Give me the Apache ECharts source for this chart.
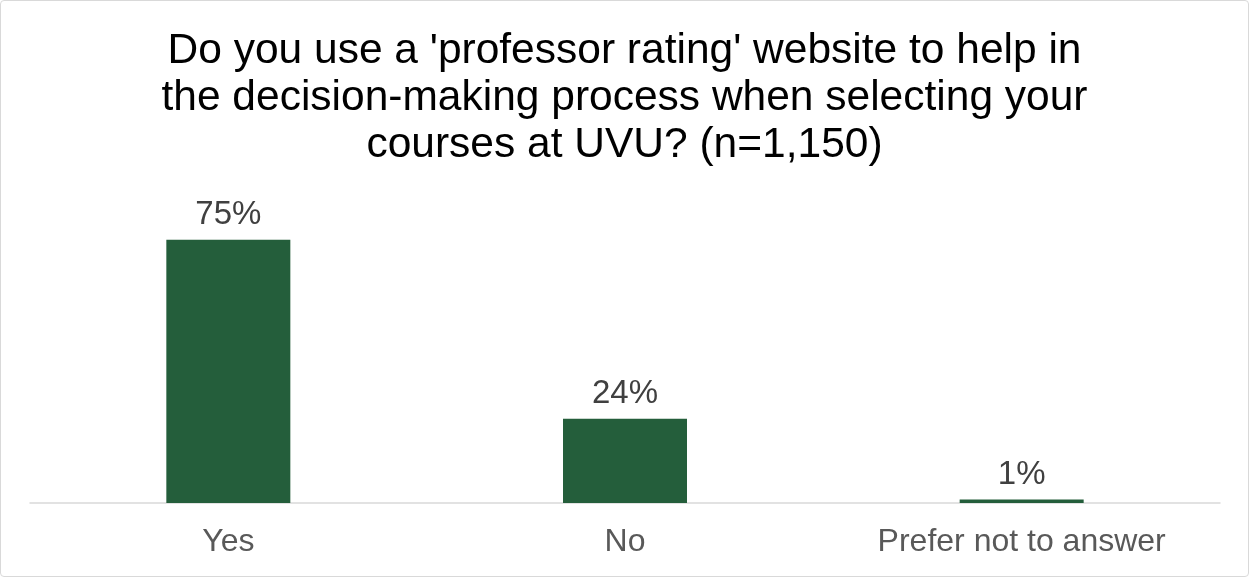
<!DOCTYPE html>
<html>
<head>
<meta charset="utf-8">
<script src="https://cdn.jsdelivr.net/npm/echarts@6/dist/echarts.min.js"></script>
<style>
  html, body { margin: 0; padding: 0; background: #fff; }
  #main {
    width: 1247px;
    height: 575px;
    border: 1px solid #d9d9d9;
    border-radius: 4px;
  }
</style>
</head>
<body>
<div id="main"></div>
<script>
// chart data
var categories = ["Yes", "No", "Prefer not to answer"];
var percentValues = [75, 24, 1];
var titleText = "Do you use a 'professor rating' website to help in\nthe decision-making process when selecting your\ncourses at UVU? (n=1,150)";

var myChart = echarts.init(document.getElementById("main"));
var option = {
  animation: false,
  textStyle: { fontFamily: "Liberation Sans, Arial, sans-serif" },
  title: {
    text: titleText,
    left: "center",
    top: 22,
    textStyle: {
      fontFamily: "Liberation Sans, Arial, sans-serif",
      fontSize: 42.5,
      fontWeight: "normal",
      color: "#000",
      lineHeight: 47,
    },
  },
  grid: {
    left: 29,
    right: 28,
    top: 151,
    bottom: 73,
  },
  xAxis: {
    type: "category",
    data: categories,
    axisTick: { show: false },
    axisLine: { lineStyle: { color: "#d9d9d9", width: 1.5 } },
    axisLabel: {
      color: "#595959",
      fontSize: 32,
      margin: 23,
    },
  },
  yAxis: {
    type: "value",
    min: 0,
    max: 100,
    show: false,
    splitLine: { show: false },
  },
  series: [
    {
      type: "bar",
      data: percentValues,
      barWidth: 124,
      itemStyle: { color: "#245E3B" },
      label: {
        show: true,
        position: "top",
        distance: 8,
        fontSize: 33,
        color: "#404040",
        formatter: "{c}%",
      },
    },
  ],
};
option && myChart.setOption(option);
</script>
</body>
</html>
